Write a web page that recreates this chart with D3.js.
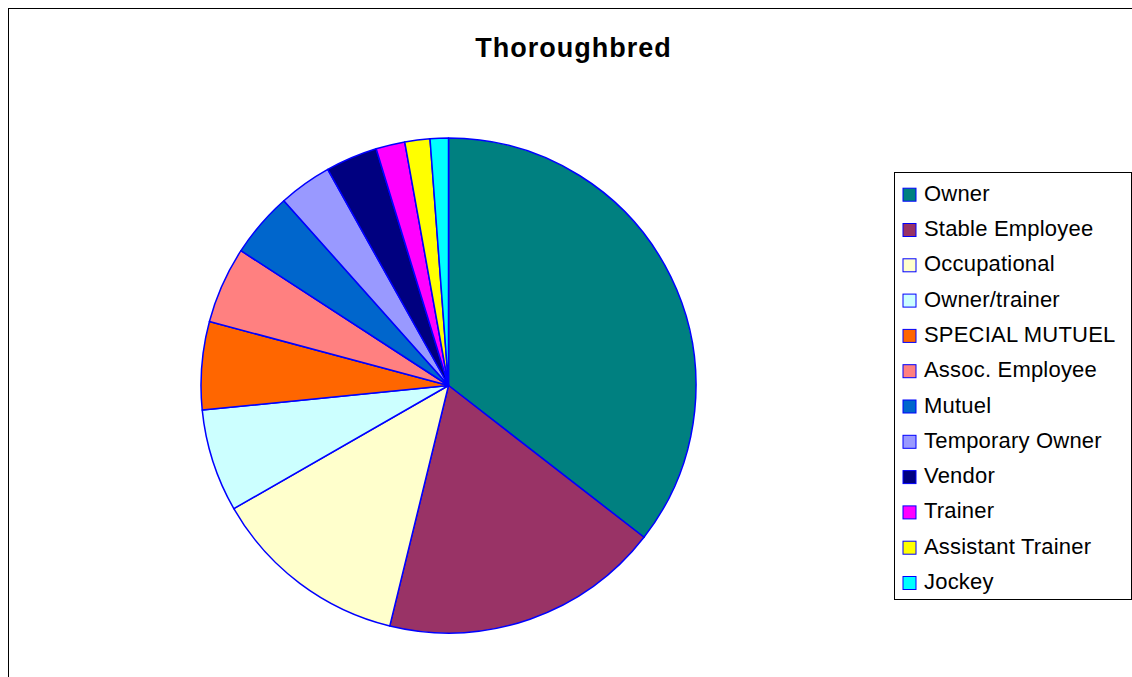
<!DOCTYPE html>
<html><head><meta charset="utf-8">
<script src="https://cdn.jsdelivr.net/npm/d3@7"></script>
<style>body{margin:0;background:#fff;}svg{display:block;}</style>
</head><body>
<svg id="c" width="1132" height="677"></svg>
<script>
const title = "Thoroughbred";
const categories = ["Owner","Stable Employee","Occupational","Owner/trainer","SPECIAL MUTUEL","Assoc. Employee","Mutuel","Temporary Owner","Vendor","Trainer","Assistant Trainer","Jockey"];
const values = [35.5,18.3,12.9,6.7,5.75,5.0,4.25,3.47,3.39,1.89,1.64,1.19];
const colors = ["#008080","#993366","#FFFFCC","#CCFFFF","#FF6600","#FF8080","#0066CC","#9999FF","#000080","#FF00FF","#FFFF00","#00FFFF"];

const svg = d3.select("#c");
svg.append("rect").attr("x",8.5).attr("y",8.5).attr("width",1300).attr("height",800)
  .attr("fill","none").attr("stroke","#000").attr("stroke-width",1);

svg.append("text").attr("x",573.5).attr("y",57).attr("text-anchor","middle")
  .attr("font-family","Liberation Sans, Arial, sans-serif").attr("font-weight","bold")
  .attr("font-size",27).attr("letter-spacing",1).text(title);

const cx = 448.5, cy = 385.5, r = 247.5;
const pie = d3.pie().sort(null).value(d=>d);
const arc = d3.arc().innerRadius(0).outerRadius(r);
const g = svg.append("g").attr("transform",`translate(${cx},${cy})`);
g.selectAll("path").data(pie(values)).enter().append("path")
  .attr("d",arc).attr("fill",(d,i)=>colors[i])
  .attr("stroke","#0000FF").attr("stroke-width",1.5).attr("stroke-linejoin","round");

// legend
const lg = svg.append("g");
lg.append("rect").attr("x",894.5).attr("y",172.5).attr("width",237).attr("height",427)
  .attr("fill","#fff").attr("stroke","#000").attr("stroke-width",1);
const y = d3.scalePoint().domain(categories).range([200.7,589]);
const items = lg.selectAll("g.it").data(categories).enter().append("g").attr("class","it");
items.append("rect").attr("x",903).attr("y",d=>y(d)-12.5).attr("width",13).attr("height",13)
  .attr("fill",(d,i)=>colors[i]).attr("stroke","#0000FF").attr("stroke-width",1);
items.append("text").attr("x",924).attr("y",d=>y(d))
  .attr("font-family","Liberation Sans, Arial, sans-serif").attr("font-size",22)
  .attr("letter-spacing",0.2).text(d=>d);
</script>
</body></html>
